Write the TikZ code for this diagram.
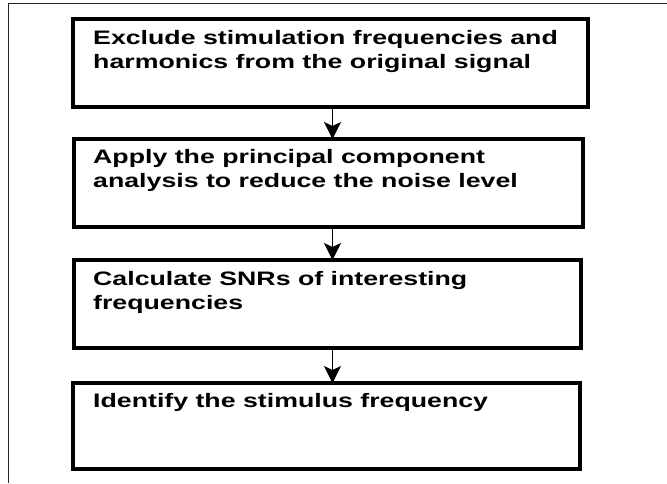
\documentclass[tikz,border=0pt]{standalone}
\usepackage{fontspec}
\setmainfont{Liberation Sans}[FakeStretch=1.37]
\usetikzlibrary{arrows.meta}
\begin{document}
\begin{tikzpicture}[x=1pt,y=-1pt,
  stepbox/.style={draw, line width=4pt, inner sep=0pt, outer sep=0pt, anchor=north west},
  steptext/.style={anchor=north west, inner sep=0pt, align=left, font=\bfseries\fontsize{19.5}{24}\selectfont},
  arr/.style={line width=1.5pt, -{Stealth[length=17pt,width=17pt,inset=4pt]}},
  frameline/.style={line width=1.4pt, black!85}]
\useasboundingbox (0,0) rectangle (667,483);
\fill[white] (0,0) rectangle (667,483);
% frame
\coordinate (fa) at (8.5,483);
\coordinate (fb) at (8.5,3.5);
\coordinate (fc) at (667,3.5);
\draw[frameline] (fa) -- (fb) -- (fc);
% boxes
\node[stepbox, minimum width=515pt, minimum height=88pt] (b1) at (73,19) {};
\node[stepbox, minimum width=509pt, minimum height=88pt] (b2) at (74,139) {};
\node[stepbox, minimum width=507pt, minimum height=88pt] (b3) at (74,260) {};
\node[stepbox, minimum width=507pt, minimum height=86pt] (b4) at (73,383) {};
% texts
\node[steptext] (t1) at (93,30) {Exclude stimulation frequencies and\\harmonics from the original signal};
\node[steptext] (t2) at (93,149) {Apply the principal component\\analysis to reduce the noise level};
\node[steptext] (t3) at (93,271) {Calculate SNRs of interesting\\frequencies};
\node[steptext] (t4) at (93,393) {Identify the stimulus frequency};
% arrows
\coordinate (ax) at (332.5,0);
\draw[arr] (b1.south -| ax) -- (b2.north -| ax);
\draw[arr] (b2.south -| ax) -- (b3.north -| ax);
\draw[arr] (b3.south -| ax) -- (b4.north -| ax);
\end{tikzpicture}
\end{document}
